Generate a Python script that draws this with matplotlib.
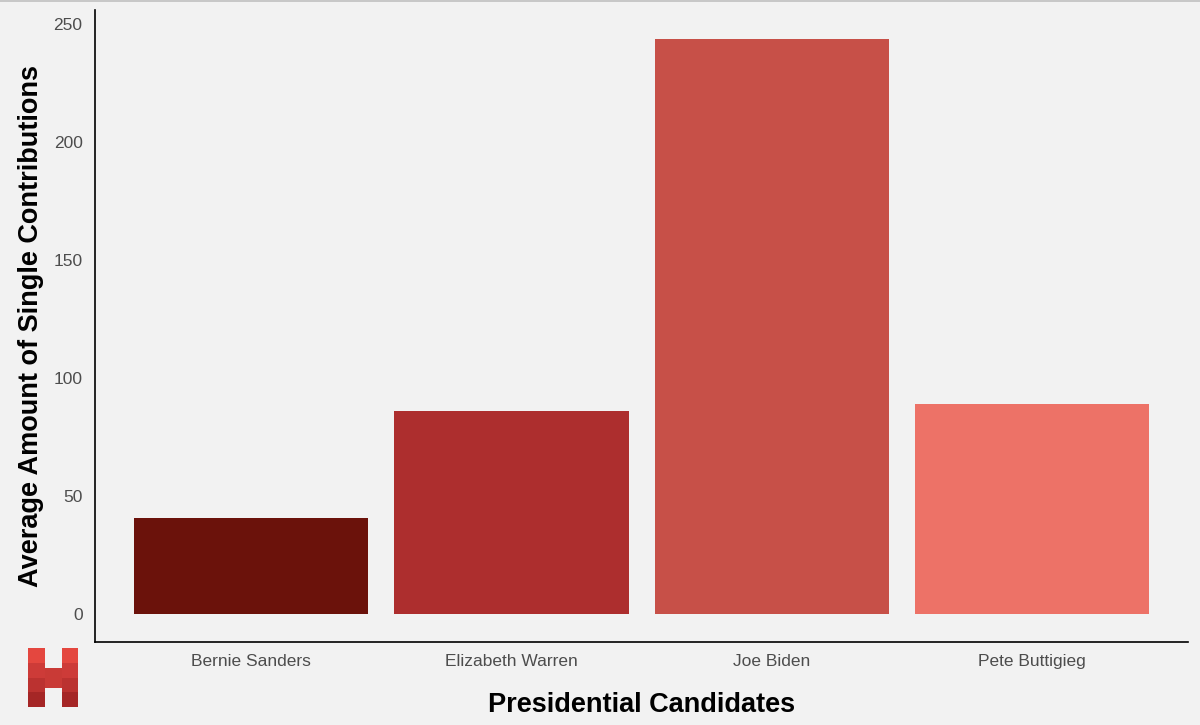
import matplotlib.pyplot as plt
from matplotlib.patches import Rectangle

candidates = ["Bernie Sanders", "Elizabeth Warren", "Joe Biden", "Pete Buttigieg"]
avg_contribution = [40.7, 86.0, 243.6, 89.0]
bar_colors = ["#6b120b", "#ad2e2e", "#c75048", "#ed7267"]
y_ticks = [0, 50, 100, 150, 200, 250]

BG = "#f2f2f2"

plt.rcParams["font.family"] = ["Liberation Sans", "DejaVu Sans"]

fig = plt.figure(figsize=(12, 7.25), dpi=100, facecolor=BG)
ax = fig.add_axes([0.0792, 0.1145, 0.9108, 0.8715], facecolor=BG)

x = list(range(len(candidates)))
ax.bar(x, avg_contribution, width=0.9, color=bar_colors)

ax.set_xlim(-0.6, 3.6)
ax.set_ylim(-12.0, 256.0)
ax.set_xticks(x)
ax.set_xticklabels(candidates)
ax.set_yticks(y_ticks)
ax.tick_params(length=0, labelsize=12.5, colors="#4d4d4d")
ax.tick_params(axis="x", pad=9)
ax.tick_params(axis="y", pad=9)

for side in ["top", "right"]:
    ax.spines[side].set_visible(False)
for side in ["left", "bottom"]:
    ax.spines[side].set_color("black")
    ax.spines[side].set_linewidth(1.2)

ax.set_xlabel("Presidential Candidates", fontsize=19.5, fontweight="bold", labelpad=16)
ax.set_ylabel("Average Amount of Single Contributions", fontsize=19.5, fontweight="bold", labelpad=7)

# thin grey border along the top
fig.add_artist(Rectangle((0, 0.997), 1, 0.003, transform=fig.transFigure,
                         color="#c8c8c8", lw=0))

# "H" logo in the bottom-left corner
logo = fig.add_axes([0.0233, 0.025, 0.042, 0.081])
logo.set_xlim(0, 48)
logo.set_ylim(0, 56)
logo.axis("off")
shades = ["#a52626", "#bb3230", "#cd3b38", "#e4473f"]
for i, c in enumerate(shades):
    y0 = i * 14
    logo.add_patch(Rectangle((0, y0), 16, 14, color=c, lw=0))
    logo.add_patch(Rectangle((32, y0), 16, 14, color=c, lw=0))
logo.add_patch(Rectangle((16, 18), 16, 19, color="#c93a36", lw=0))

fig.savefig("out.png", dpi=100, facecolor=BG)
